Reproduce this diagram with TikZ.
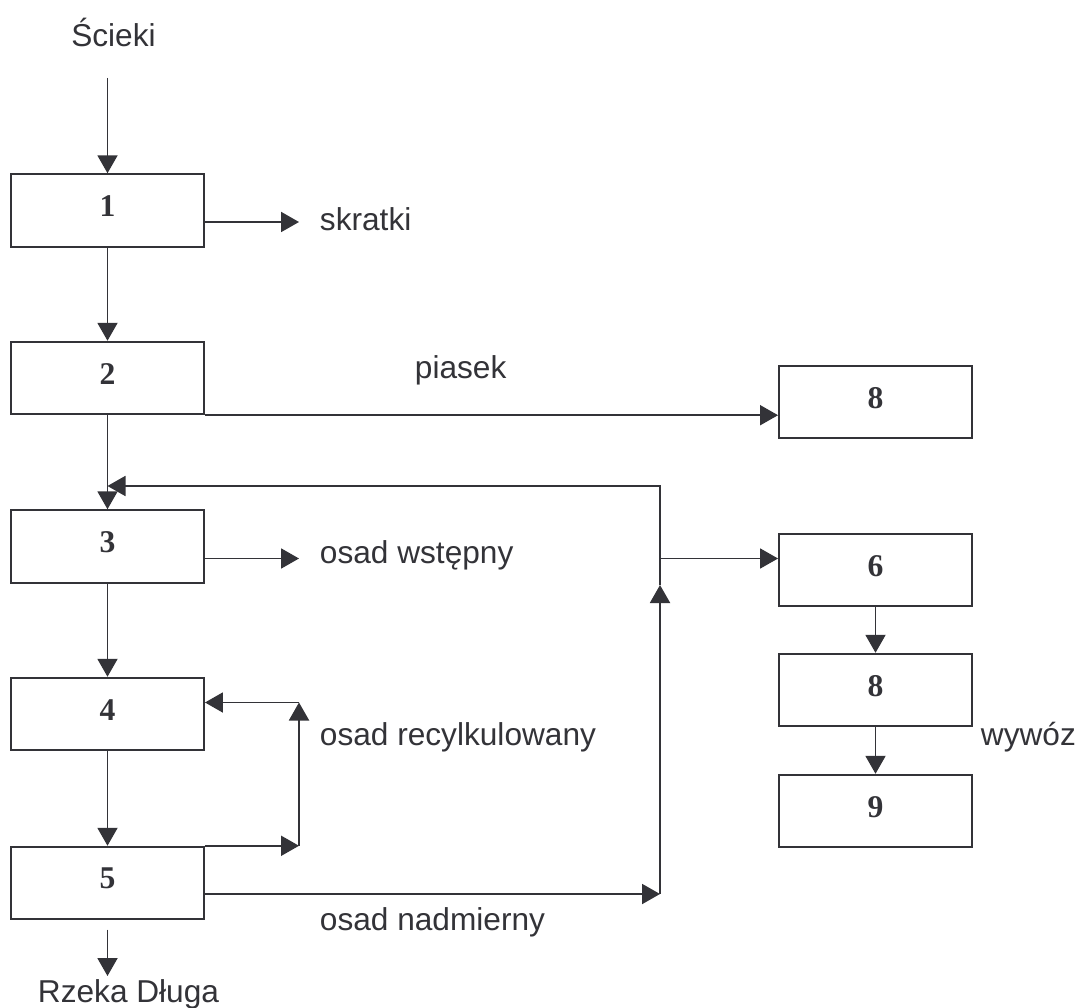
\documentclass[tikz,border=0pt]{standalone}
\usepackage{fontspec}
\setmainfont{Liberation Sans}
\newfontfamily\numfont{Liberation Serif}
\usetikzlibrary{positioning, arrows.meta}
\definecolor{ink}{RGB}{51,51,56}

\begin{document}
\begin{tikzpicture}[ink, line width=1.1pt,
    blok/.style={draw=ink, minimum width=3.86cm, minimum height=1.45cm, inner sep=0pt,
        font=\numfont\bfseries\fontsize{18}{20}\selectfont, text depth=5pt},
    opis/.style={inner sep=0pt, font=\fontsize{18}{20}\selectfont},
    strz/.style={-{Triangle[length=3.6mm,width=4mm]}}]
    \fill[white] (0,0) rectangle (21.54,20.14);
    \useasboundingbox (0,0) rectangle (21.54,20.14);

    % Draw the boxes
    \node[blok] (b1) at (2.15,15.93) {1};
    \node[blok] (b2) at (2.15,12.58) {2};
    \node[blok] (b3) at (2.15,9.21) {3};
    \node[blok] (b4) at (2.15,5.86) {4};
    \node[blok] (b5) at (2.15,2.48) {5};
    \node[blok] (b8a) at (17.51,12.10) {8};
    \node[blok] (b6) at (17.51,8.74) {6};
    \node[blok] (b8b) at (17.51,6.34) {8};
    \node[blok] (b9) at (17.51,3.92) {9};

    % Draw the labels
    \node[opis, anchor=base] (scieki) at (2.27,19.21) {Ścieki};
    \node[opis, anchor=base west] (skratki) at (6.38,15.53) {skratki};
    \node[opis, anchor=base west] (piasek) at (8.28,12.56) {piasek};
    \node[opis, anchor=base west] (wstepny) at (6.38,8.88) {osad wstępny};
    \node[opis, anchor=base west] (recykl) at (6.38,5.23) {osad recylkulowany};
    \node[opis, anchor=base west] (nadmiar) at (6.38,1.54) {osad nadmierny};
    \node[opis, anchor=base west] (wywoz) at (19.6,5.24) {wywóz};
    \node[opis, anchor=base west] (rzeka) at (0.74,0.10) {Rzeka Długa};

    % Points for the free ends
    \coordinate (wlot) at (2.15,18.58);
    \coordinate (skr) at (5.98,15.70);
    \coordinate (osw) at (5.98,8.97);
    \coordinate (rc) at (5.98,6.09);
    \coordinate (fb) at (13.2,10.42);
    \coordinate (br) at (13.2,8.97);
    \coordinate (up) at (13.2,8.44);
    \coordinate (nd) at (13.2,2.26);
    \coordinate (rzs) at (2.15,1.55);
    \coordinate (rz) at (2.15,0.62);

    % Main line
    \draw[strz] (wlot) -- (b1.north);
    \draw[strz] (b1.south) -- (b2.north);
    \draw[strz] (b2.south) -- (b3.north);
    \draw[strz] (b3.south) -- (b4.north);
    \draw[strz] (b4.south) -- (b5.north);
    \draw[strz] (rzs) -- (rz);

    % Side outputs
    \draw[strz] (b1.east |- skr) -- (skr);
    \draw[strz] (b2.south east) -- (b2.south east -| b8a.west);
    \draw[strz] (b3.east |- osw) -- (osw);

    % Recycled sludge
    \draw[strz] (b5.north east) -- (b5.north east -| rc);
    \draw[strz] (b5.north east -| rc) -- (rc);
    \draw[strz] (rc) -- (rc -| b4.east);

    % Excess sludge and return
    \draw[strz] (b5.east |- nd) -- (nd);
    \draw[strz] (nd) -- (up);
    \draw[strz] (up) -- (fb) -- (fb -| b2.south);
    \draw[strz] (br) -- (br -| b6.west);

    % Sludge line
    \draw[strz] (b6.south) -- (b8b.north);
    \draw[strz] (b8b.south) -- (b9.north);
\end{tikzpicture}
\end{document}
